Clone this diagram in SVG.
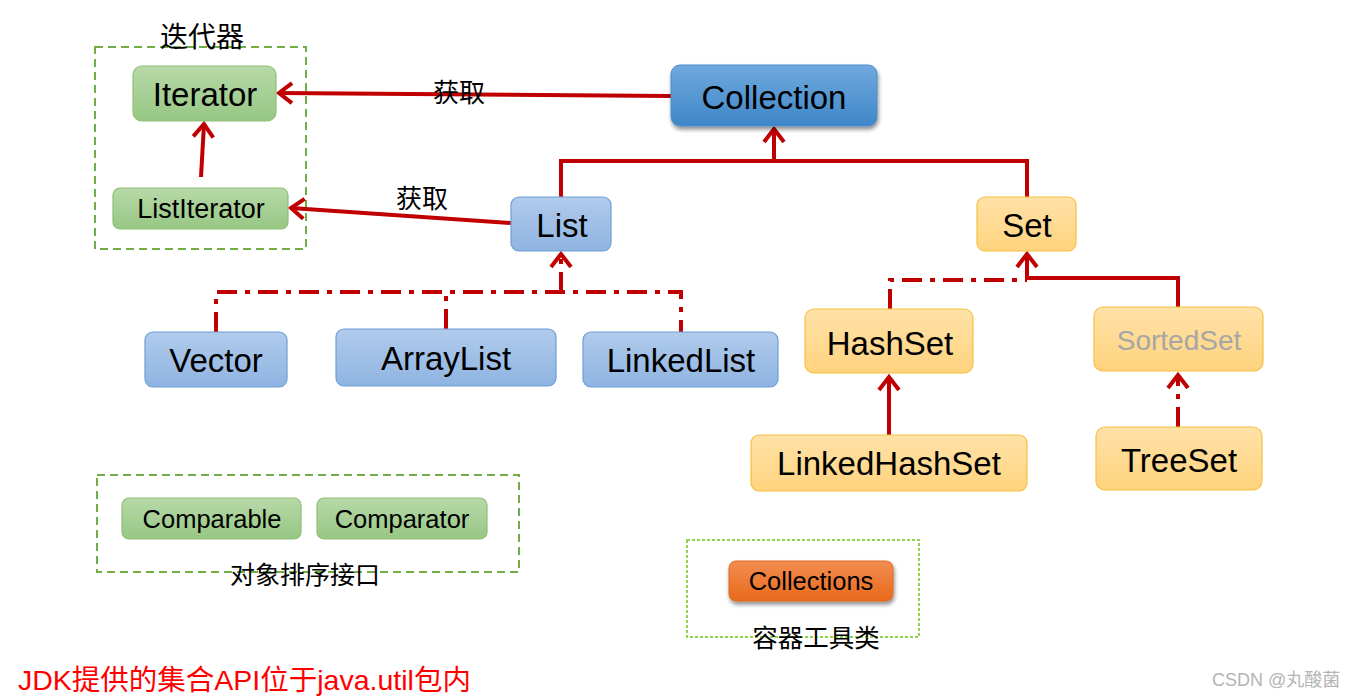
<svg xmlns="http://www.w3.org/2000/svg" width="1356" height="698" viewBox="0 0 1356 698">
<style>
.t{font-family:"Liberation Sans",Arial,sans-serif;fill:#000;text-anchor:middle}
.cj{font-family:"Noto Sans CJK SC",sans-serif;fill:#000;text-anchor:middle}
.g{fill:url(#gG);stroke:#8fbf75;stroke-width:1.2}
.b{fill:url(#gB);stroke:#6d9fd6;stroke-width:1.2}
.o{fill:url(#gO);stroke:#f7c042;stroke-width:1.2}
.ln{fill:none;stroke:#c00000;stroke-width:4}
.dd{stroke-dasharray:20 8 5 8}
.box{fill:none;stroke:#70ad47;stroke-width:2;stroke-dasharray:8 5}
</style>
<defs>
<linearGradient id="gG" x1="0" y1="0" x2="0" y2="1"><stop offset="0" stop-color="#b7d9a8"/><stop offset="1" stop-color="#97c784"/></linearGradient>
<linearGradient id="gB" x1="0" y1="0" x2="0" y2="1"><stop offset="0" stop-color="#b1cbeb"/><stop offset="1" stop-color="#8fb4e2"/></linearGradient>
<linearGradient id="gO" x1="0" y1="0" x2="0" y2="1"><stop offset="0" stop-color="#ffe2a8"/><stop offset="1" stop-color="#ffd37e"/></linearGradient>
<linearGradient id="gC" x1="0" y1="0" x2="0" y2="1"><stop offset="0" stop-color="#70a9de"/><stop offset="1" stop-color="#3f86c8"/></linearGradient>
<linearGradient id="gR" x1="0" y1="0" x2="0" y2="1"><stop offset="0" stop-color="#f38d50"/><stop offset="1" stop-color="#e8691b"/></linearGradient>
<filter id="sh" x="-10%" y="-20%" width="125%" height="150%"><feGaussianBlur in="SourceAlpha" stdDeviation="2"/><feOffset dx="1" dy="3"/><feComponentTransfer><feFuncA type="linear" slope="0.45"/></feComponentTransfer><feMerge><feMergeNode/><feMergeNode in="SourceGraphic"/></feMerge></filter>
<marker id="ah" markerUnits="userSpaceOnUse" markerWidth="24" markerHeight="28" viewBox="-18 -14 24 28" refX="0" refY="0" orient="auto" overflow="visible">
<path d="M-13,-10 L0,0 L-13,10" fill="none" stroke="#c00000" stroke-width="4"/>
</marker>
</defs>

<g id="groups">
<rect class="box" x="95" y="47" width="211" height="202"/>
<text class="cj" x="202" y="47" font-size="28">迭代器</text>
<rect class="box" x="97" y="475" width="422" height="97"/>
<text class="cj" x="305" y="584" font-size="25">对象排序接口</text>
<rect x="687" y="540" width="232" height="97" fill="none" stroke="#92d050" stroke-width="2" stroke-dasharray="3 2"/>
<text class="cj" x="816" y="647" font-size="25.5">容器工具类</text>
</g>

<g id="connectors">
<path class="ln" d="M671,96 L279,93" marker-end="url(#ah)"/>
<text class="cj" x="459" y="102" font-size="26">获取</text>
<path class="ln" d="M511,223 L291,208" marker-end="url(#ah)"/>
<text class="cj" x="422" y="208" font-size="26">获取</text>
<path class="ln" d="M201,177 L204,124" marker-end="url(#ah)"/>
<path class="ln" d="M561,197 L561,161 L1027,161 L1027,197"/>
<path class="ln" d="M774,161 L774,129" marker-end="url(#ah)"/>
<path class="ln dd" d="M216,332 L216,292 L681,292 L681,332"/>
<path class="ln dd" d="M446,329 L446,292"/>
<path class="ln dd" d="M561,292 L561,254" marker-end="url(#ah)"/>
<path class="ln dd" d="M890,309 L890,280 L1027,280"/>
<path class="ln" d="M1178,307 L1178,278 L1027,278"/>
<path class="ln" d="M1027,280 L1027,254" marker-end="url(#ah)"/>
<path class="ln" d="M889,435 L889,377" marker-end="url(#ah)"/>
<path class="ln dd" d="M1178,427 L1178,375" marker-end="url(#ah)"/>
</g>

<g id="Iterator"><rect class="g" x="133" y="66" width="143" height="55" rx="9"/><text class="t" x="205" y="106" font-size="33">Iterator</text></g>
<g id="ListIterator"><rect class="g" x="113" y="188" width="175" height="41" rx="7"/><text class="t" x="201" y="218" font-size="27">ListIterator</text></g>
<g id="Collection"><rect x="671" y="65" width="206" height="61" rx="9" fill="url(#gC)" stroke="#4a8ccc" stroke-width="1" filter="url(#sh)"/><text class="t" x="774" y="109" font-size="33">Collection</text></g>
<g id="List"><rect class="b" x="511" y="197" width="100" height="54" rx="8"/><text class="t" x="562" y="237" font-size="33">List</text></g>
<g id="Set"><rect class="o" x="977" y="197" width="99" height="54" rx="8"/><text class="t" x="1027" y="237" font-size="33">Set</text></g>
<g id="Vector"><rect class="b" x="145" y="332" width="142" height="55" rx="8"/><text class="t" x="216" y="372" font-size="33">Vector</text></g>
<g id="ArrayList"><rect class="b" x="336" y="329" width="220" height="57" rx="8"/><text class="t" x="446" y="370" font-size="33">ArrayList</text></g>
<g id="LinkedList"><rect class="b" x="583" y="332" width="195" height="55" rx="8"/><text class="t" x="681" y="372" font-size="33">LinkedList</text></g>
<g id="HashSet"><rect class="o" x="805" y="309" width="168" height="64" rx="9"/><text class="t" x="890" y="355" font-size="33">HashSet</text></g>
<g id="SortedSet"><rect class="o" x="1094" y="307" width="169" height="64" rx="9"/><text class="t" x="1179" y="350" font-size="28" style="fill:#a6a6a6">SortedSet</text></g>
<g id="LinkedHashSet"><rect class="o" x="751" y="435" width="276" height="56" rx="8"/><text class="t" x="889" y="475" font-size="33">LinkedHashSet</text></g>
<g id="TreeSet"><rect class="o" x="1096" y="427" width="166" height="63" rx="9"/><text class="t" x="1179" y="472" font-size="33">TreeSet</text></g>
<g id="Comparable"><rect class="g" x="122" y="498" width="179" height="41" rx="7"/><text class="t" x="212" y="528" font-size="25.5">Comparable</text></g>
<g id="Comparator"><rect class="g" x="317" y="498" width="170" height="41" rx="7"/><text class="t" x="402" y="528" font-size="25.5">Comparator</text></g>
<g id="Collections"><rect x="729" y="561" width="164" height="40" rx="7" fill="url(#gR)" stroke="#e06a20" stroke-width="1" filter="url(#sh)"/><text class="t" x="811" y="590" font-size="25.5">Collections</text></g>

<text x="18" y="690" font-size="28.5" font-family="'Liberation Sans','Noto Sans CJK SC',sans-serif" fill="#ff0000">JDK提供的集合API位于java.util包内</text>
<text x="1212" y="686" font-size="18" font-family="'Liberation Sans','Noto Sans CJK SC',sans-serif" fill="#b4b4b4">CSDN @丸酸菌</text>
</svg>
